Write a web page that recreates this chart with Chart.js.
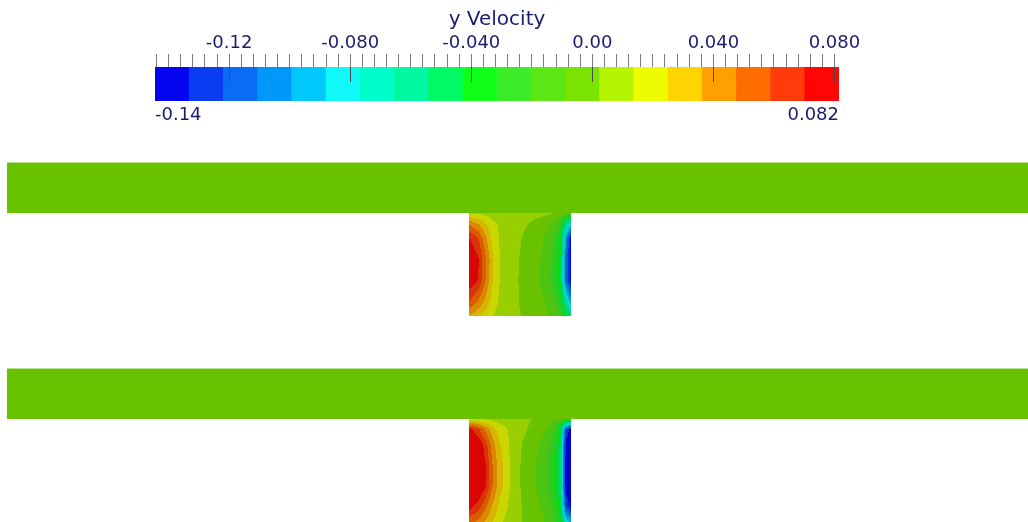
<!DOCTYPE html>
<html lang="en">
<head>
<meta charset="UTF-8">
<title>y Velocity</title>
<script src="https://cdn.jsdelivr.net/npm/chart.js"></script>
<style>
  html, body { margin: 0; padding: 0; background: #fff; }
  #wrap { position: relative; width: 1028px; height: 522px; overflow: hidden; }
  #wrap canvas { position: absolute; left: 0; top: 0; }
</style>
</head>
<body>
<div id="wrap">
  <canvas id="field" width="1028" height="522"></canvas>
  <canvas id="colorbar" width="1028" height="130"></canvas>
</div>
<script>
// colour legend: range and the 20 discrete bands
const rangeMin = -0.1445;
const rangeMax = 0.0815;
const bandColors = [
  '#0505f0', '#0a3cf2', '#0a6cf5', '#0098f8', '#00c8fa',
  '#10f8f8', '#00fcc8', '#00f8a0', '#00fa64', '#10ff18',
  '#3cec28', '#5ce614', '#7ae400', '#b4f400', '#eefc00',
  '#ffd400', '#ffa000', '#ff6c00', '#ff3c0a', '#ff0505'
];
const majorTicks = [-0.12, -0.08, -0.04, 0, 0.04, 0.08];
const majorLabels = ['-0.12', '-0.080', '-0.040', '0.00', '0.040', '0.080'];
const endLabels = ['-0.14', '0.082'];
const minorStep = 0.004;

// y velocity in the two cavities, sampled on a grid
// columns: fraction of cavity width from the left wall
// rows: fraction of cavity depth from the channel down
const gridU = [0, 0.09, 0.16, 0.23, 0.30, 0.45, 0.6, 0.72, 0.8, 0.86, 0.9, 0.95, 1.0];
const gridV = [0, 0.1, 0.25, 0.45, 0.65, 0.85, 1.0];
const cavityTop = [
  [0.012, 0.012, 0.010, 0.009, 0.008, 0.007, 0.006, 0.005, 0.004, 0.002, 0.000, -0.010, -0.020],
  [0.045, 0.035, 0.025, 0.016, 0.012, 0.006, 0.002, -0.002, -0.008, -0.015, -0.030, -0.060, -0.080],
  [0.072, 0.060, 0.040, 0.022, 0.013, 0.005, -0.001, -0.008, -0.016, -0.026, -0.040, -0.100, -0.138],
  [0.082, 0.072, 0.050, 0.027, 0.014, 0.004, -0.002, -0.010, -0.020, -0.032, -0.045, -0.110, -0.142],
  [0.080, 0.070, 0.048, 0.026, 0.014, 0.004, -0.003, -0.011, -0.021, -0.033, -0.046, -0.110, -0.140],
  [0.060, 0.048, 0.034, 0.020, 0.012, 0.004, -0.002, -0.008, -0.014, -0.022, -0.035, -0.070, -0.100],
  [0.035, 0.028, 0.020, 0.014, 0.009, 0.004, 0.000, -0.005, -0.010, -0.015, -0.022, -0.040, -0.050]
];
const cavityBottom = [
  [0.015, 0.014, 0.012, 0.010, 0.008, 0.006, 0.003, 0.000, -0.005, -0.010, -0.015, -0.020, -0.020],
  [0.075, 0.060, 0.045, 0.030, 0.020, 0.008, 0.001, -0.006, -0.015, -0.030, -0.050, -0.120, -0.140],
  [0.090, 0.082, 0.065, 0.042, 0.026, 0.006, -0.002, -0.012, -0.022, -0.035, -0.055, -0.140, -0.150],
  [0.090, 0.085, 0.072, 0.048, 0.030, 0.006, -0.004, -0.015, -0.025, -0.038, -0.060, -0.140, -0.150],
  [0.090, 0.085, 0.072, 0.048, 0.030, 0.006, -0.004, -0.015, -0.025, -0.038, -0.060, -0.140, -0.150],
  [0.075, 0.065, 0.050, 0.035, 0.022, 0.006, -0.002, -0.010, -0.020, -0.032, -0.050, -0.120, -0.140],
  [0.050, 0.045, 0.035, 0.025, 0.016, 0.005, -0.001, -0.007, -0.015, -0.025, -0.040, -0.080, -0.090]
];
const channelValue = 0.0;

// geometry (cavity width = depth = 1)
const channelStart = -4.53;
const channelHeight = 0.49;
const panels = [
  { base: 2.0, grid: cavityTop },
  { base: 0.0, grid: cavityBottom }
];

const textColor = '#1b1b6e';
const fontFamily = '"DejaVu Sans", sans-serif';
const shade = 0.85;

const shadedColors = bandColors.map(c => {
  const r = parseInt(c.slice(1, 3), 16), g = parseInt(c.slice(3, 5), 16), b = parseInt(c.slice(5, 7), 16);
  return 'rgb(' + Math.round(r * shade) + ',' + Math.round(g * shade) + ',' + Math.round(b * shade) + ')';
});

function bandIndex(val) {
  let i = Math.floor((val - rangeMin) / (rangeMax - rangeMin) * bandColors.length);
  return Math.max(0, Math.min(bandColors.length - 1, i));
}

function findCell(arr, t) {
  for (let i = 0; i < arr.length - 2; i++) {
    if (t <= arr[i + 1]) return i;
  }
  return arr.length - 2;
}

function sample(grid, u, v) {
  const i = findCell(gridU, u), j = findCell(gridV, v);
  const fu = Math.max(0, Math.min(1, (u - gridU[i]) / (gridU[i + 1] - gridU[i])));
  const fv = Math.max(0, Math.min(1, (v - gridV[j]) / (gridV[j + 1] - gridV[j])));
  const a = grid[j][i] * (1 - fu) + grid[j][i + 1] * fu;
  const b = grid[j + 1][i] * (1 - fu) + grid[j + 1][i + 1] * fu;
  return a * (1 - fv) + b * fv;
}

// draws channels and the banded cavity field through the chart scales
const fieldPlugin = {
  id: 'fieldPlot',
  beforeDatasetsDraw(chart) {
    const { ctx, scales: { x, y } } = chart;
    ctx.save();
    panels.forEach(p => {
      const cx0 = x.getPixelForValue(channelStart);
      const cx1 = x.getPixelForValue(x.max);
      const cy0 = y.getPixelForValue(p.base + 1 + channelHeight);
      const cy1 = y.getPixelForValue(p.base + 1);
      ctx.fillStyle = shadedColors[bandIndex(channelValue)];
      ctx.fillRect(cx0, cy0, cx1 - cx0, cy1 - cy0);

      const px0 = Math.round(x.getPixelForValue(0));
      const px1 = Math.round(x.getPixelForValue(1));
      const py0 = Math.round(y.getPixelForValue(p.base + 1));
      const py1 = Math.round(y.getPixelForValue(p.base));
      for (let py = py0; py < py1; py++) {
        const v = p.base + 1 - y.getValueForPixel(py + 0.5);
        let runStart = px0, runColor = null;
        for (let px = px0; px <= px1; px++) {
          let col = null;
          if (px < px1) {
            const u = x.getValueForPixel(px + 0.5);
            col = shadedColors[bandIndex(sample(p.grid, u, v))];
          }
          if (col !== runColor) {
            if (runColor) {
              ctx.fillStyle = runColor;
              ctx.fillRect(runStart, py, px - runStart, 1);
            }
            runStart = px;
            runColor = col;
          }
        }
      }
    });
    ctx.restore();
  }
};

new Chart(document.getElementById('field'), {
  type: 'scatter',
  data: { datasets: [] },
  options: {
    responsive: false,
    animation: false,
    events: [],
    layout: { padding: 0 },
    plugins: { legend: { display: false }, tooltip: { enabled: false } },
    scales: {
      x: { type: 'linear', min: -4.598, max: 5.480, display: false },
      y: { type: 'linear', min: 0, max: 5.068, display: false }
    }
  },
  plugins: [fieldPlugin]
});

// colour bar
const bandWidth = (rangeMax - rangeMin) / bandColors.length;
const bands = bandColors.map((c, i) => ({ x: [rangeMin + i * bandWidth, rangeMin + (i + 1) * bandWidth], y: 0 }));

const isMajor = v => majorTicks.findIndex(m => Math.abs(m - v) < 1e-6);

const majorLinePlugin = {
  id: 'majorLines',
  afterDatasetsDraw(chart) {
    const { ctx, chartArea, scales: { x } } = chart;
    ctx.save();
    ctx.strokeStyle = '#4a4a4a';
    ctx.lineWidth = 1;
    majorTicks.forEach(v => {
      const px = Math.round(x.getPixelForValue(v)) + 0.5;
      ctx.beginPath();
      ctx.moveTo(px, chartArea.top);
      ctx.lineTo(px, chartArea.top + 15);
      ctx.stroke();
    });
    ctx.restore();
  }
};

new Chart(document.getElementById('colorbar'), {
  type: 'bar',
  data: {
    datasets: [{
      data: bands,
      backgroundColor: bandColors,
      borderWidth: 0,
      barThickness: 34
    }]
  },
  options: {
    indexAxis: 'y',
    responsive: false,
    animation: false,
    events: [],
    layout: { padding: { left: 155, right: 189, top: 8, bottom: 3 } },
    plugins: { legend: { display: false }, tooltip: { enabled: false } },
    scales: {
      y: { type: 'linear', min: -1, max: 1, display: false },
      x: {
        type: 'linear',
        position: 'top',
        min: rangeMin,
        max: rangeMax,
        afterBuildTicks: s => {
          const ticks = [];
          const start = Math.ceil(rangeMin / minorStep - 1e-9);
          const end = Math.floor(rangeMax / minorStep + 1e-9);
          for (let k = start; k <= end; k++) ticks.push({ value: k * minorStep });
          s.ticks = ticks;
        },
        afterFit: s => { s.height = 59; },
        ticks: {
          autoSkip: false,
          maxRotation: 0,
          padding: 0,
          color: textColor,
          font: { family: fontFamily, size: 18 },
          callback: v => {
            const k = isMajor(v);
            return k >= 0 ? majorLabels[k] : '';
          }
        },
        grid: { drawOnChartArea: false, tickLength: 13, tickColor: '#7a7a7a', tickWidth: 1 },
        border: { display: false },
        title: {
          display: true,
          text: 'y Velocity',
          color: textColor,
          font: { family: fontFamily, size: 20 },
          padding: { top: 0, bottom: 0 }
        }
      },
      x2: {
        type: 'linear',
        position: 'bottom',
        min: rangeMin,
        max: rangeMax,
        afterBuildTicks: s => { s.ticks = [{ value: rangeMin }, { value: rangeMax }]; },
        afterFit: s => { s.height = 26; },
        ticks: {
          align: 'inner',
          maxRotation: 0,
          padding: 4,
          color: textColor,
          font: { family: fontFamily, size: 18 },
          callback: (v, i) => endLabels[i]
        },
        grid: { display: false, drawTicks: false },
        border: { display: false }
      }
    }
  },
  plugins: [majorLinePlugin]
});
</script>
</body>
</html>
